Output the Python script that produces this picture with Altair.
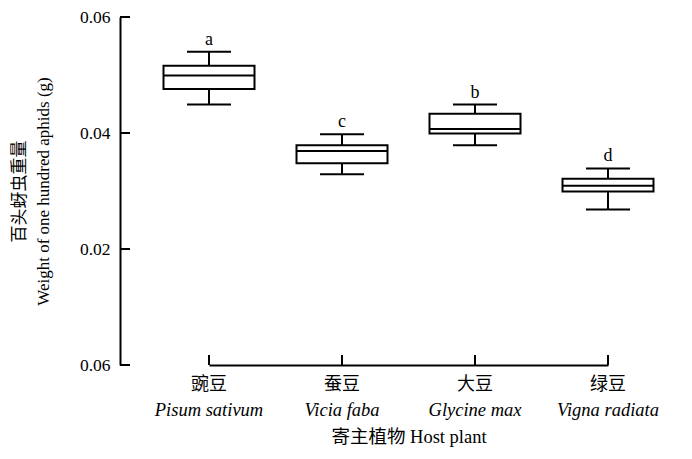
import altair as alt
import pandas as pd

hosts_cn = ["豌豆", "蚕豆", "大豆", "绿豆"]
hosts_latin = ["Pisum sativum", "Vicia faba", "Glycine max", "Vigna radiata"]
whisker_low = [0.0449, 0.0329, 0.0379, 0.0268]
q1 = [0.0476, 0.0348, 0.0399, 0.0299]
median = [0.0499, 0.0369, 0.0407, 0.0309]
q3 = [0.0516, 0.0379, 0.0433, 0.0321]
whisker_high = [0.0540, 0.0398, 0.0449, 0.0339]
letters = ["a", "c", "b", "d"]
y_tick_values = [0.0, 0.02, 0.04, 0.06]

FONT = "Liberation Serif, Noto Sans CJK SC"
W, H = 572, 348

df = pd.DataFrame({
    "host": hosts_cn, "latin": hosts_latin, "lo": whisker_low, "q1": q1,
    "med": median, "q3": q3, "hi": whisker_high, "letter": letters,
})
ticks_df = pd.DataFrame({"v": y_tick_values})

xscale = alt.Scale(type="point", domain=hosts_cn, range=[89, 488], padding=0)
yscale = alt.Scale(domain=[0, 0.06], nice=False, zero=True)

x_enc = alt.X("host:N", scale=xscale, sort=hosts_cn,
              axis=alt.Axis(labels=False, ticks=False, domain=True, domainColor="black",
                            domainWidth=2, title="寄主植物 Host plant", titleFont=FONT,
                            titleFontSize=18.5, titleFontWeight="normal", titleColor="black",
                            titlePadding=62))

base = alt.Chart(df)

whisk_lo = base.mark_rule(color="black", strokeWidth=2).encode(
    x=x_enc,
    y=alt.Y("lo:Q", scale=yscale,
            axis=alt.Axis(values=y_tick_values, ticks=False, grid=False, domainColor="black",
                          domainWidth=2, labelFont=FONT, labelFontSize=17.5, labelColor="black",
                          labelPadding=10,
                          labelExpr="datum.value == 0 ? '0.06' : format(datum.value, '.2f')",
                          title=["百头蚜虫重量", "Weight of one hundred aphids (g)"],
                          titleFont=FONT, titleFontSize=17, titleFontWeight="normal",
                          titleColor="black", titlePadding=27, titleLineHeight=24)),
    y2="q1:Q",
)
whisk_hi = base.mark_rule(color="black", strokeWidth=2).encode(
    x=alt.X("host:N", scale=xscale), y=alt.Y("q3:Q", scale=yscale), y2="hi:Q")
box = base.mark_bar(size=91, fill="white", stroke="black", strokeWidth=2).encode(
    x=alt.X("host:N", scale=xscale), y=alt.Y("q1:Q", scale=yscale), y2="q3:Q")
med = base.mark_tick(size=91, thickness=2, color="black", opacity=1).encode(
    x=alt.X("host:N", scale=xscale), y=alt.Y("med:Q", scale=yscale))
cap_lo = base.mark_tick(size=44, thickness=2, color="black", opacity=1).encode(
    x=alt.X("host:N", scale=xscale), y=alt.Y("lo:Q", scale=yscale))
cap_hi = base.mark_tick(size=44, thickness=2, color="black", opacity=1).encode(
    x=alt.X("host:N", scale=xscale), y=alt.Y("hi:Q", scale=yscale))
letter_txt = base.mark_text(font=FONT, fontSize=18, color="black", baseline="alphabetic",
                            dy=-7).encode(
    x=alt.X("host:N", scale=xscale), y=alt.Y("hi:Q", scale=yscale), text="letter:N")
cn_txt = base.mark_text(font=FONT, fontSize=18, color="black", baseline="middle").encode(
    x=alt.X("host:N", scale=xscale), y=alt.value(H + 20), text="host:N")
latin_txt = base.mark_text(font=FONT, fontSize=18.5, fontStyle="italic", color="black",
                           baseline="middle").encode(
    x=alt.X("host:N", scale=xscale), y=alt.value(H + 45), text="latin:N")
xticks = base.mark_rule(color="black", strokeWidth=2).encode(
    x=alt.X("host:N", scale=xscale), y=alt.value(H), y2=alt.value(H - 10))
yticks = alt.Chart(ticks_df).mark_rule(color="black", strokeWidth=2).encode(
    y=alt.Y("v:Q", scale=yscale), x=alt.value(0), x2=alt.value(10))

chart = alt.layer(whisk_lo, whisk_hi, box, med, cap_lo, cap_hi, letter_txt, cn_txt,
                  latin_txt, xticks, yticks).properties(
    width=W, height=H,
    autosize=alt.AutoSizeParams(type="none"),
    padding={"left": 120, "top": 17, "right": 0, "bottom": 94},
    background="white",
).configure_view(stroke=None)

chart.save("out.html", embed_options={"renderer": "svg", "actions": False})
